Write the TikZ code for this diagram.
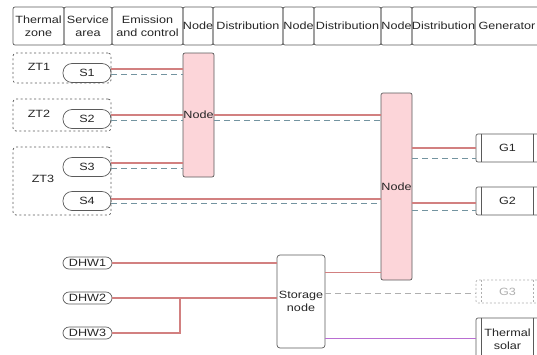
\documentclass[tikz,border=0pt]{standalone}
\usepackage{fontspec}
\setmainfont[FakeStretch=1.2]{Liberation Sans}
\usepackage{tikz}

\definecolor{edge}{RGB}{90,90,90}
\definecolor{hotline}{RGB}{210,128,128}
\definecolor{coldline}{RGB}{115,148,160}
\definecolor{nodepink}{RGB}{252,213,217}
\definecolor{solarline}{RGB}{185,110,210}
\definecolor{offgray}{RGB}{175,175,175}

\begin{document}
\begin{tikzpicture}[x=1pt, y=-1pt,
        every node/.style={font=\fontsize{10.5}{13.5}\selectfont, text=black!85},
        head/.style={draw=edge, line width=0.7pt, rounded corners=2pt, inner sep=0pt, minimum height=38pt, align=center},
        zone/.style={draw=edge, line width=0.7pt, dash pattern=on 2pt off 2.5pt, rounded corners=3pt, inner sep=0pt},
        pill/.style={draw=edge, line width=0.7pt, rounded corners=9pt, inner sep=0pt, minimum width=48pt, minimum height=19pt},
        dhw/.style={draw=edge, line width=0.7pt, rounded corners=6pt, inner sep=0pt, minimum width=49pt, minimum height=12pt},
        hub/.style={draw=edge, line width=0.7pt, fill=nodepink, rounded corners=2pt, inner sep=0pt, minimum width=31pt},
        store/.style={draw=edge, line width=0.7pt, rounded corners=3pt, inner sep=0pt, minimum width=48pt, minimum height=93pt, align=center},
        gen/.style={draw=edge, line width=0.7pt, rounded corners=2pt, inner sep=0pt, minimum width=63pt, align=center},
        hot/.style={draw=hotline, line width=1.2pt},
        cold/.style={draw=coldline, line width=0.8pt, dash pattern=on 6pt off 4pt}]
        \useasboundingbox (0,0) rectangle (537,354);
        % header row
        \draw (38.5, 26) node[head, minimum width=51pt](h1) {Thermal\\zone};
        \draw (88, 26) node[head, minimum width=48pt](h2) {Service\\area};
        \draw (147.5, 26) node[head, minimum width=71pt](h3) {Emission\\and control};
        \draw (198, 26) node[head, minimum width=30pt](h4) {Node};
        \draw (248, 26) node[head, minimum width=70pt](h5) {Distribution};
        \draw (298.5, 26) node[head, minimum width=31pt](h6) {Node};
        \draw (347.5, 26) node[head, minimum width=67pt](h7) {Distribution};
        \draw (396.5, 26) node[head, minimum width=31pt](h8) {Node};
        \draw (443.5, 26) node[head, minimum width=63pt](h9) {Distribution};
        \draw (507, 26) node[head, minimum width=64pt](h10) {Generator};
        % thermal zones
        \draw (62, 68) node[zone, minimum width=98pt, minimum height=30pt](zt1) {};
        \draw (62, 115) node[zone, minimum width=98pt, minimum height=32pt](zt2) {};
        \draw (62, 181) node[zone, minimum width=98pt, minimum height=68pt](zt3) {};
        \draw (39, 67) node(l1) {ZT1};
        \draw (39, 114) node(l2) {ZT2};
        \draw (43, 179) node(l3) {ZT3};
        % service areas
        \draw (87, 73) node[pill](s1) {S1};
        \draw (87, 119) node[pill](s2) {S2};
        \draw (87, 167) node[pill](s3) {S3};
        \draw (87, 201) node[pill](s4) {S4};
        % nodes
        \draw (198.5, 115) node[hub, minimum height=124pt](n1) {Node};
        \draw (396.5, 186.5) node[hub, minimum height=187pt](n2) {Node};
        \draw (301, 301.5) node[store](st) {Storage\\node};
        % hot water
        \draw (87.5, 263) node[dhw](d1) {DHW1};
        \draw (87.5, 298) node[dhw](d2) {DHW2};
        \draw (87.5, 333) node[dhw](d3) {DHW3};
        % generators
        \draw (507.5, 148) node[gen, minimum height=28pt](g1) {G1};
        \draw (507.5, 201) node[gen, minimum height=28pt](g2) {G2};
        \draw (507.5, 291.5) node[gen, draw=offgray, text=offgray, dash pattern=on 2pt off 2pt, minimum height=23pt](g3) {G3};
        \draw (507.5, 339) node[gen, minimum height=42pt](ts) {Thermal\\solar};
        \foreach \g in {g1, g2, ts} {
            \draw[edge, line width=0.7pt] ([xshift=6pt]\g.north west) -- ([xshift=6pt]\g.south west);
            \draw[edge, line width=0.7pt] ([xshift=-6pt]\g.north east) -- ([xshift=-6pt]\g.south east);
        }
        \draw[offgray, line width=0.7pt, dash pattern=on 2pt off 2pt] ([xshift=6pt]g3.north west) -- ([xshift=6pt]g3.south west);
        \draw[offgray, line width=0.7pt, dash pattern=on 2pt off 2pt] ([xshift=-6pt]g3.north east) -- ([xshift=-6pt]g3.south east);
        % service areas to nodes
        \foreach \s in {s1, s2, s3} {
            \draw[hot] ([yshift=4pt]\s.east) -- ([yshift=4pt]\s.east -| n1.west);
            \draw[cold] ([yshift=-1pt]\s.east) -- ([yshift=-1pt]\s.east -| n1.west);
        }
        \draw[hot] ([yshift=4pt]s2.east -| n1.east) -- ([yshift=4pt]s2.east -| n2.west);
        \draw[cold] ([yshift=-1pt]s2.east -| n1.east) -- ([yshift=-1pt]s2.east -| n2.west);
        \draw[hot] ([yshift=2pt]s4.east) -- ([yshift=2pt]s4.east -| n2.west);
        \draw[cold] ([yshift=-2pt]s4.east) -- ([yshift=-2pt]s4.east -| n2.west);
        % node to generators
        \draw[hot] (g1.west -| n2.east) -- (g1.west);
        \draw[cold] ([yshift=-10pt]g1.west -| n2.east) -- ([yshift=-10pt]g1.west);
        \draw[hot] ([yshift=-2pt]g2.west -| n2.east) -- ([yshift=-2pt]g2.west);
        \draw[cold] ([yshift=-9pt]g2.west -| n2.east) -- ([yshift=-9pt]g2.west);
        % hot water and storage
        \coordinate (j) at (180, 298);
        \draw[hot] (d1.east) -- (d1.east -| st.west);
        \draw[hot] (d2.east) -- (d2.east -| st.west);
        \draw[hot] (d3.east) -| (j);
        \draw[hot] ([yshift=-17.5pt]st.north east) -- ([yshift=-17.5pt]st.north east -| n2.west);
        \draw[offgray, line width=0.7pt, dash pattern=on 6pt off 4pt] ([yshift=-1.5pt]g3.west -| st.east) -- ([yshift=-1.5pt]g3.west);
        \draw[solarline, line width=1pt] ([yshift=1pt]ts.west -| st.east) -- ([yshift=1pt]ts.west);
    \end{tikzpicture}
\end{document}
